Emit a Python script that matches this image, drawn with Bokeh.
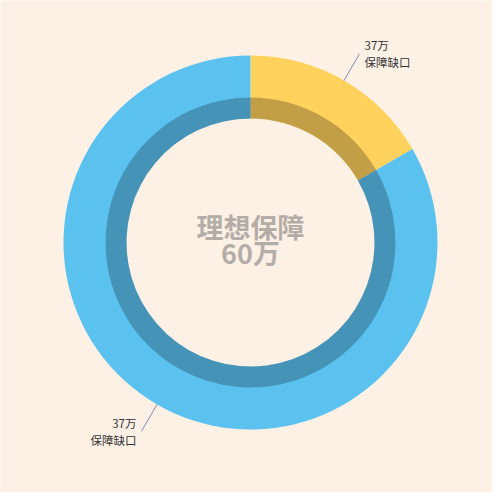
import math

from bokeh.core.properties import value
from bokeh.embed import file_html
from bokeh.models import ColumnDataSource
from bokeh.plotting import figure
from bokeh.resources import INLINE

# data
slice_names = ["保障缺口", "保障缺口"]
slice_value_labels = ["37万", "37万"]
slice_values = [10, 50]
slice_colors = ["#ffd25e", "#5bc2f0"]
center_title = "理想保障"
center_amount = "60万"

W, H = 492, 492
cx, cy = 250, 250
r_outer, r_dark, r_inner = 187, 145, 124
r_label = 218

total = sum(slice_values)
starts, ends, mids = [], [], []
acc = 0
for v in slice_values:
    a0 = math.pi / 2 - 2 * math.pi * acc / total
    acc += v
    a1 = math.pi / 2 - 2 * math.pi * acc / total
    starts.append(a0)
    ends.append(a1)
    mids.append((a0 + a1) / 2)

source = ColumnDataSource(dict(
    start=starts, end=ends, color=slice_colors,
    x=[cx] * len(slice_values), y=[cy] * len(slice_values),
))

p = figure(width=W, height=H, x_range=(0, W), y_range=(0, H),
           output_backend="svg", toolbar_location=None, min_border=0)
p.axis.visible = False
p.grid.visible = False
p.outline_line_color = None
p.background_fill_color = "#fdf1e5"
p.border_fill_color = "#fdf1e5"

p.annular_wedge(x="x", y="y", inner_radius=r_inner, outer_radius=r_outer,
                start_angle="start", end_angle="end", direction="clock",
                fill_color="color", line_color=None, source=source)
# darker inner band
p.annular_wedge(x="x", y="y", inner_radius=r_inner, outer_radius=r_dark,
                start_angle="start", end_angle="end", direction="clock",
                fill_color="black", fill_alpha=0.24, line_color=None, source=source)

# leader lines and labels
for m, name, lab in zip(mids, slice_names, slice_value_labels):
    x0, y0 = cx + r_outer * math.cos(m), cy + r_outer * math.sin(m)
    x1, y1 = cx + r_label * math.cos(m), cy + r_label * math.sin(m)
    p.line([x0, x1], [y0, y1], line_color="#7f8db0", line_width=1)
    right = math.cos(m) >= 0
    p.text(x=[x1 + (5 if right else -5)], y=[y1], text=[lab + "\n" + name],
           text_align="left" if right else "right", text_baseline="middle",
           text_font=value("Noto Sans CJK SC"), text_font_size="11.5px",
           text_line_height=1.05, text_color="#333333")

p.text(x=[cx], y=[cy + 16], text=[center_title], text_align="center",
       text_baseline="middle", text_font=value("Noto Sans CJK SC"),
       text_font_size="27px", text_font_style="bold", text_color="#b4ada7")
p.text(x=[cx], y=[cy - 10], text=[center_amount], text_align="center",
       text_baseline="middle", text_font=value("Noto Sans CJK SC"),
       text_font_size="27px", text_font_style="bold", text_color="#b4ada7")

open("out.html", "w").write(file_html(p, INLINE))
